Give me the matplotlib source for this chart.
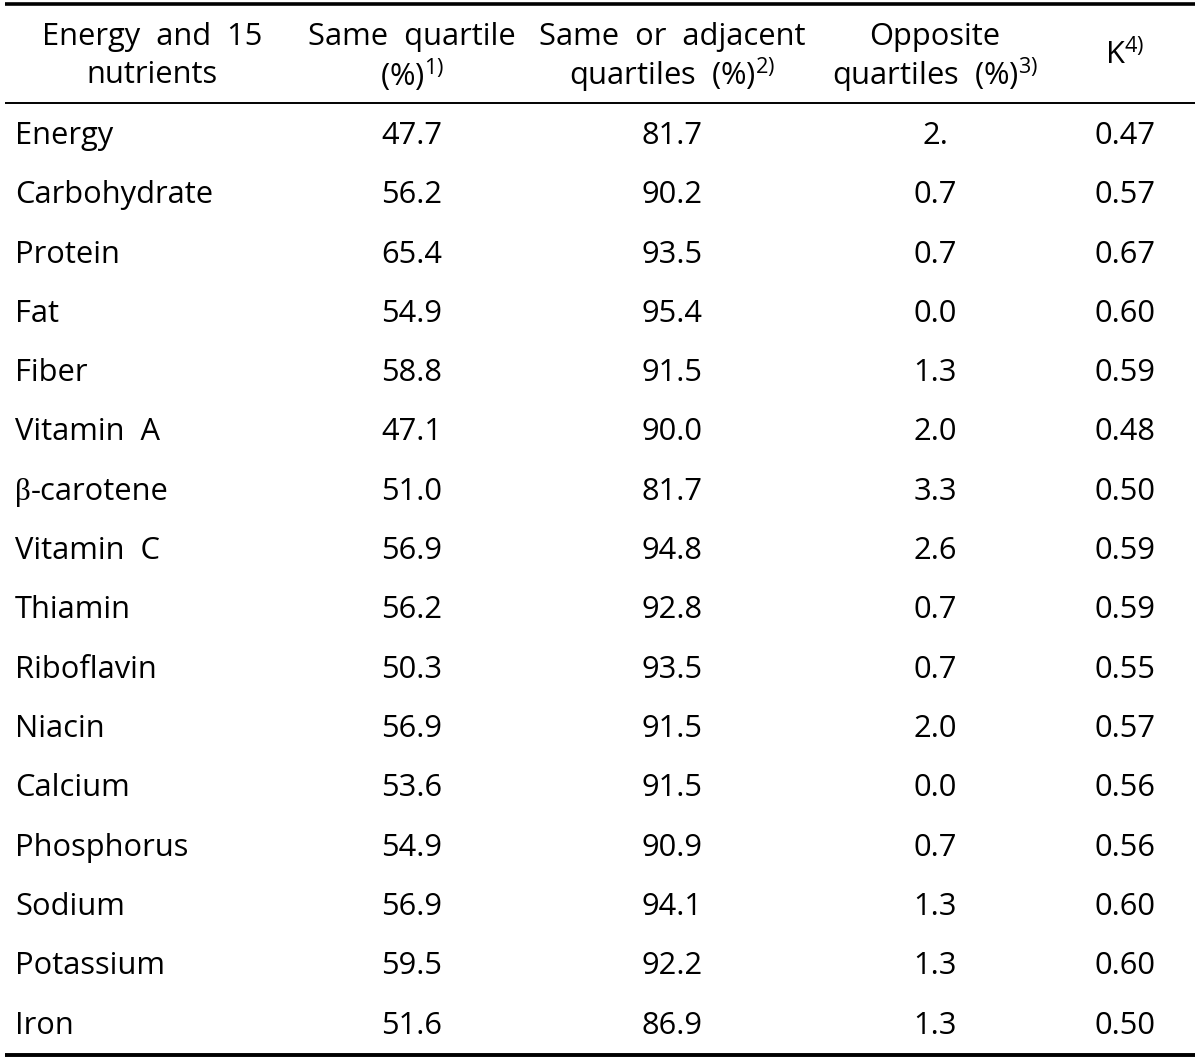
import matplotlib
matplotlib.use('Agg')
import matplotlib.pyplot as plt

plt.rcParams['font.family'] = ['Open Sans', 'DejaVu Sans']
plt.rcParams['mathtext.fontset'] = 'custom'
plt.rcParams['mathtext.rm'] = 'Open Sans'

nutrients = ['Energy', 'Carbohydrate', 'Protein', 'Fat', 'Fiber', 'Vitamin  A',
             'β-carotene', 'Vitamin  C', 'Thiamin', 'Riboflavin',
             'Niacin', 'Calcium', 'Phosphorus', 'Sodium', 'Potassium', 'Iron']
same_q = ['47.7', '56.2', '65.4', '54.9', '58.8', '47.1', '51.0', '56.9', '56.2',
          '50.3', '56.9', '53.6', '54.9', '56.9', '59.5', '51.6']
adjacent_q = ['81.7', '90.2', '93.5', '95.4', '91.5', '90.0', '81.7', '94.8', '92.8',
              '93.5', '91.5', '91.5', '90.9', '94.1', '92.2', '86.9']
opposite_q = ['2.', '0.7', '0.7', '0.0', '1.3', '2.0', '3.3', '2.6', '0.7',
              '0.7', '2.0', '0.0', '0.7', '1.3', '1.3', '1.3']
kappa = ['0.47', '0.57', '0.67', '0.60', '0.59', '0.48', '0.50', '0.59', '0.59',
         '0.55', '0.57', '0.56', '0.56', '0.60', '0.60', '0.50']

headers = [('Energy  and  15', 'nutrients'),
           ('Same  quartile', r'(%)$^{\mathrm{1)}}$'),
           ('Same  or  adjacent', r'quartiles  (%)$^{\mathrm{2)}}$'),
           ('Opposite', r'quartiles  (%)$^{\mathrm{3)}}$')]

fig = plt.figure(figsize=(12, 10.62), dpi=100)
ax = fig.add_axes([0, 0, 1, 1])
ax.set_xlim(0, 1200)
ax.set_ylim(1062, 0)
ax.axis('off')

fs = 22.2
col_x = [152, 412, 672, 935]
for x, (l1, l2) in zip(col_x, headers):
    ax.text(x, 37, l1, ha='center', va='center', fontsize=fs)
    ax.text(x, 75, l2, ha='center', va='center', fontsize=fs)
ax.text(1125, 55, r'K$^{\mathrm{4)}}$', ha='center', va='center', fontsize=fs)

# rules
ax.plot([5, 1195], [4, 4], color='black', lw=2.6, solid_capstyle='butt')
ax.plot([5, 1195], [103, 103], color='black', lw=1.4, solid_capstyle='butt')
ax.plot([5, 1195], [1055, 1055], color='black', lw=2.8, solid_capstyle='butt')

row0 = 136
step = 59.3
renderer = fig.canvas.get_renderer()
for i in range(len(nutrients)):
    y = row0 + i * step
    name = nutrients[i]
    if name.startswith('β'):
        # greek letter in a serif face, like the source
        b = ax.text(15, y + 8, 'β', ha='left', va='baseline', fontsize=fs,
                    family='Liberation Serif')
        w = b.get_window_extent(renderer).width
        ax.text(15 + w, y, name[1:], ha='left', va='center', fontsize=fs)
    else:
        ax.text(15, y, name, ha='left', va='center', fontsize=fs)
    ax.text(412, y, same_q[i], ha='center', va='center', fontsize=fs)
    ax.text(672, y, adjacent_q[i], ha='center', va='center', fontsize=fs)
    ax.text(935, y, opposite_q[i], ha='center', va='center', fontsize=fs)
    ax.text(1125, y, kappa[i], ha='center', va='center', fontsize=fs)

fig.savefig('out.png', dpi=100)
